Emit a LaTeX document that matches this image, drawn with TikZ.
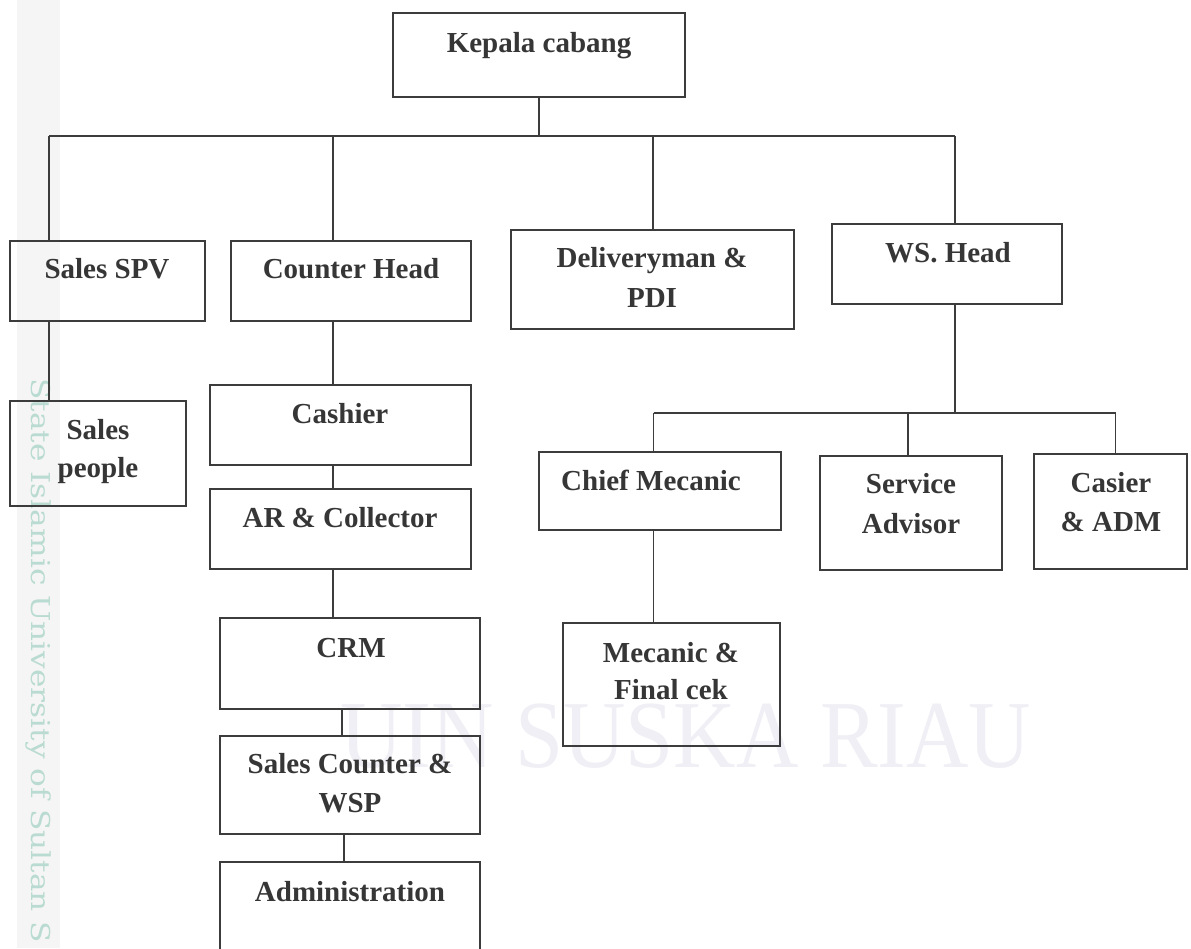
\documentclass[tikz,border=0pt]{standalone}
\usepackage{fontspec}
\setmainfont{Liberation Serif}
\newfontfamily\wmserif{DejaVu Serif}
\definecolor{linec}{HTML}{3C3C3C}
\definecolor{textc}{HTML}{363636}
\definecolor{wmteal}{HTML}{B9DBD1}
\definecolor{wmgray}{HTML}{EFEFF5}
\definecolor{bandc}{HTML}{F5F5F5}
\begin{document}
\begin{tikzpicture}[x=1pt,y=-1pt,
  box/.style={draw=linec, line width=1.7pt, inner sep=0pt, outer sep=0pt, rectangle},
  lbl/.style={text=textc, font=\fontsize{29}{34}\selectfont\bfseries, anchor=base, inner sep=0pt},
  conn/.style={draw=linec, line width=1.6pt}]
\useasboundingbox (0,0) rectangle (1191,948);
\clip (0,0) rectangle (1191,948);
\fill[white] (0,0) rectangle (1191,948);
\fill[bandc] (17,0) rectangle (60,948);
% watermark texts
\node[text=wmgray, font=\fontsize{96}{100}\selectfont, anchor=base west, inner sep=0pt] (wmA) at (340,767) {\scalebox{0.9}[1]{UIN SUSKA RIAU}};
\node[text=wmteal, font=\wmserif\fontsize{26}{30}\selectfont, rotate=-90, anchor=base west, inner sep=0pt] (wmB) at (31,378) {\scalebox{1.2}[1]{State Islamic University of Sultan S}};
% boxes
\node[box, minimum width=292pt, minimum height=84pt] (ks) at (539,55) {};
\node[box, minimum width=195pt, minimum height=80pt] (spv) at (107.5,281) {};
\node[box, minimum width=240pt, minimum height=80pt] (ch) at (351,281) {};
\node[box, minimum width=283pt, minimum height=99pt] (del) at (652.5,279.5) {};
\node[box, minimum width=230pt, minimum height=80pt] (ws) at (947,264) {};
\node[box, minimum width=176pt, minimum height=105pt] (sp) at (98,453.5) {};
\node[box, minimum width=261pt, minimum height=80pt] (cas) at (340.5,425) {};
\node[box, minimum width=261pt, minimum height=80pt] (ar) at (340.5,529) {};
\node[box, minimum width=260pt, minimum height=91pt] (crm) at (350,663.5) {};
\node[box, minimum width=260pt, minimum height=98pt] (sc) at (350,785) {};
\node[box, minimum width=260pt, minimum height=98pt] (adm) at (350,911) {};
\node[box, minimum width=242pt, minimum height=78pt] (chief) at (660,491) {};
\node[box, minimum width=182pt, minimum height=114pt] (sa) at (911,513) {};
\node[box, minimum width=153pt, minimum height=115pt] (ca) at (1110.5,511.5) {};
\node[box, minimum width=217pt, minimum height=123pt] (mec) at (671.5,684.5) {};
% labels
\node[lbl] (tks) at (539,52) {Kepala cabang};
\node[lbl] (tspv) at (107,278) {Sales SPV};
\node[lbl] (tch) at (351,278) {Counter Head};
\node[lbl] (tdel1) at (652,267) {Deliveryman \&};
\node[lbl] (tdel2) at (652,307) {PDI};
\node[lbl] (tws) at (948,262) {WS. Head};
\node[lbl] (tsp1) at (98,439) {Sales};
\node[lbl] (tsp2) at (98,477) {people};
\node[lbl] (tcas) at (340,423) {Cashier};
\node[lbl] (tar) at (340,527) {AR \& Collector};
\node[lbl] (tcrm) at (351,657) {CRM};
\node[lbl] (tsc1) at (350,773) {Sales Counter \&};
\node[lbl] (tsc2) at (350,812) {WSP};
\node[lbl] (tadm) at (350,901) {Administration};
\node[lbl] (tchief) at (651,490) {Chief Mecanic};
\node[lbl] (tsa1) at (911,493) {Service};
\node[lbl] (tsa2) at (911,533) {Advisor};
\node[lbl] (tca1) at (1111,492) {Casier};
\node[lbl] (tca2) at (1111,531) {\& ADM};
\node[lbl] (tmec1) at (671,662) {Mecanic \&};
\node[lbl] (tmec2) at (671,699) {Final cek};
% top bus
\coordinate (b0) at (539,136);
\coordinate (d1) at (49,136);
\coordinate (d2) at (333,136);
\coordinate (d3) at (653,136);
\coordinate (d4) at (955,136);
\draw[conn] (ks.south) -- (b0);
\draw[conn] (d1) -- (d4);
\draw[conn] (d1) -- (d1 |- spv.north);
\draw[conn] (d2) -- (d2 |- ch.north);
\draw[conn] (d3) -- (d3 |- del.north);
\draw[conn] (d4) -- (d4 |- ws.north);
% sales chain
\draw[conn] (d1 |- spv.south) -- (d1 |- sp.north);
% counter chain
\coordinate (c1) at (333,0);
\coordinate (c2) at (342,0);
\coordinate (c3) at (344,0);
\draw[conn] (c1 |- ch.south) -- (c1 |- cas.north);
\draw[conn] (c1 |- cas.south) -- (c1 |- ar.north);
\draw[conn] (c1 |- ar.south) -- (c1 |- crm.north);
\draw[conn] (c2 |- crm.south) -- (c2 |- sc.north);
\draw[conn] (c3 |- sc.south) -- (c3 |- adm.north);
% workshop
\coordinate (e0) at (955,413);
\coordinate (e1) at (653.6,413);
\coordinate (e2) at (908,413);
\coordinate (e3) at (1115.6,413);
\draw[conn] (e0 |- ws.south) -- (e0);
\draw[conn] (e1) -- (e3);
\draw[conn] (e1) -- (e1 |- chief.north);
\draw[conn] (e2) -- (e2 |- sa.north);
\draw[conn] (e3) -- (e3 |- ca.north);
\draw[conn] (e1 |- chief.south) -- (e1 |- mec.north);
\end{tikzpicture}
\end{document}
